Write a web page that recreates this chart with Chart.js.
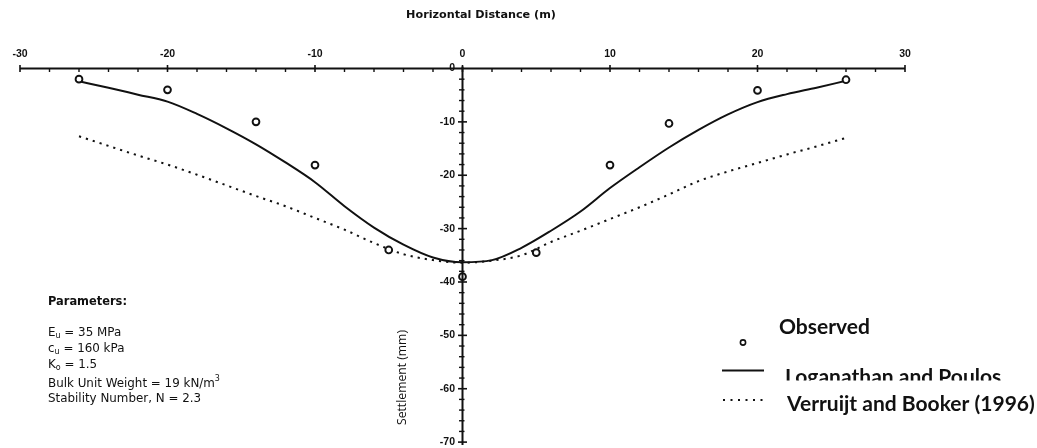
<!DOCTYPE html>
<html><head><meta charset="utf-8">
<script src="https://cdn.jsdelivr.net/npm/chart.js@4.4.1/dist/chart.umd.min.js"></script>
<style>html,body{margin:0;padding:0;background:#fff;overflow:hidden}canvas{display:block}</style>
</head><body>
<canvas id="c" width="1037" height="448"></canvas>
<script>
// ---- data ----
const xTickValues = [-30, -20, -10, 0, 10, 20, 30];
const xTickLabels = ['-30', '-20', '-10', '0', '10', '20', '30'];
const yTickValues = [0, -10, -20, -30, -40, -50, -60, -70];
const yTickLabels = ['0', '-10', '-20', '-30', '-40', '-50', '-60', '-70'];

const observedX = [-26, -20, -14, -10, -5, 0, 5, 10, 14, 20, 26];
const observedY = [-2, -4, -10, -18.1, -34, -39, -34.5, -18.1, -10.3, -4.1, -2.1];

const modelX = [-26, -24, -22, -20, -18, -16, -14, -12, -10, -8, -6, -4, -2, 0, 2, 4, 6, 8, 10, 12, 14, 16, 18, 20, 22, 24, 26];
const loganathanY = [-2.4, -3.6, -4.9, -6.2, -8.5, -11.2, -14.2, -17.6, -21.3, -25.8, -29.8, -33.0, -35.4, -36.3, -35.9, -33.6, -30.4, -26.8, -22.4, -18.5, -14.8, -11.5, -8.6, -6.3, -4.8, -3.6, -2.3];
const verruijtY = [-12.7, -14.5, -16.3, -18.0, -19.9, -21.9, -23.9, -25.8, -28.0, -30.2, -32.7, -34.8, -35.9, -36.4, -36.0, -35.0, -32.5, -30.4, -28.2, -26.0, -23.6, -21.1, -19.3, -17.7, -16.1, -14.6, -13.0];

const seriesNames = ['Observed', 'Loganathan and Poulos', 'Verruijt and Booker (1996)'];
const xTitle = 'Horizontal Distance (m)';
const yTitle = 'Settlement (mm)';
const paramTitle = 'Parameters:';
const paramLines = [
  [['E'], ['u', 'sub'], [' = 35 MPa']],
  [['c'], ['u', 'sub'], [' = 160 kPa']],
  [['K'], ['o', 'sub'], [' = 1.5']],
  [['Bulk Unit Weight = 19 kN/m'], ['3', 'sup']],
  [['Stability Number, N = 2.3']]
];

const INK = '#111';
const toPts = (xs, ys) => xs.map((v, i) => ({x: v, y: ys[i]}));

function fitFont(ctx, text, weight, family, targetW) {
  ctx.font = weight + ' 20px ' + family;
  const w = ctx.measureText(text).width;
  return weight + ' ' + (20 * targetW / w).toFixed(2) + 'px ' + family;
}

const axesPlugin = {
  id: 'customAxes',
  afterDatasetsDraw(chart) {
    const {ctx, scales: {x, y}} = chart;
    const x0 = x.getPixelForValue(0), y0 = y.getPixelForValue(0);
    const seg = (a, b, c, d) => { ctx.beginPath(); ctx.moveTo(a, b); ctx.lineTo(c, d); ctx.stroke(); };
    ctx.save();
    ctx.strokeStyle = INK; ctx.fillStyle = INK;
    ctx.lineWidth = 2;
    seg(x.getPixelForValue(x.min), y0, x.getPixelForValue(x.max), y0);
    seg(x0, y0 - 2, x0, y.getPixelForValue(y.min) + 3);
    // minor ticks
    ctx.lineWidth = 1.4;
    for (let v = x.min; v <= x.max; v += 2) {
      if (v % 10 === 0) continue;
      const px = x.getPixelForValue(v);
      seg(px, y0, px, y0 + 3.5);
    }
    for (let v = y.max; v >= y.min; v -= 2) {
      if (v % 10 === 0) continue;
      const py = y.getPixelForValue(v);
      seg(x0 - 3.5, py, x0 + 2, py);
    }
    // major ticks + labels
    ctx.lineWidth = 1.6;
    ctx.font = 'bold 10.5px "Liberation Sans"';
    ctx.textAlign = 'center'; ctx.textBaseline = 'middle';
    xTickValues.forEach((v, i) => {
      const px = x.getPixelForValue(v);
      seg(px, y0 - 3.5, px, y0 + 3.5);
      ctx.fillText(xTickLabels[i], px, y0 - 14.5);
    });
    ctx.textAlign = 'right';
    yTickValues.forEach((v, i) => {
      const py = y.getPixelForValue(v);
      if (v !== 0) seg(x0 - 4.5, py, x0 + 4.5, py);
      ctx.fillText(yTickLabels[i], x0 - 7.5, py);
    });
    ctx.restore();
  },
  afterDraw(chart) {
    const {ctx} = chart;
    ctx.save();
    ctx.fillStyle = INK; ctx.strokeStyle = INK;
    // axis titles
    ctx.textAlign = 'center'; ctx.textBaseline = 'middle';
    ctx.font = fitFont(ctx, xTitle, 'bold', '"DejaVu Sans"', 150);
    ctx.fillText(xTitle, 481, 15);
    ctx.save();
    ctx.translate(403, 377.5); ctx.rotate(-Math.PI / 2);
    ctx.font = fitFont(ctx, yTitle, 'normal', '"Open Sans"', 95);
    ctx.fillText(yTitle, 0, 0);
    ctx.restore();

    // parameters block
    ctx.textAlign = 'left'; ctx.textBaseline = 'alphabetic';
    ctx.font = fitFont(ctx, paramTitle, 'bold', '"DejaVu Sans"', 79);
    ctx.fillText(paramTitle, 48, 305);
    const rows = [335.5, 351.5, 367.5, 386.5, 401.5];
    paramLines.forEach((parts, r) => {
      let cx = 48;
      parts.forEach(([t, kind]) => {
        let dy = 0;
        if (kind === 'sub') { ctx.font = '8px "DejaVu Sans"'; dy = 2.5; }
        else if (kind === 'sup') { ctx.font = '8px "DejaVu Sans"'; dy = -5.5; }
        else ctx.font = '11.9px "DejaVu Sans"';
        ctx.fillText(t, cx, rows[r] + dy);
        cx += ctx.measureText(t).width;
      });
    });

    // legend
    const lf = fitFont(ctx, seriesNames[2], 'bold', 'Lato', 248);
    ctx.font = lf;
    ctx.fillText(seriesNames[0], 779, 334);
    ctx.save();
    ctx.beginPath(); ctx.rect(770, 355, 260, 25.5); ctx.clip();
    ctx.fillText(seriesNames[1], 785, 384);
    ctx.restore();
    ctx.fillText(seriesNames[2], 787, 411);
    ctx.lineWidth = 1.6;
    ctx.beginPath(); ctx.arc(743, 342.5, 2.6, 0, Math.PI * 2); ctx.stroke();
    ctx.lineWidth = 2;
    ctx.beginPath(); ctx.moveTo(722, 370.5); ctx.lineTo(764, 370.5); ctx.stroke();
    ctx.setLineDash([2, 5.5]);
    ctx.beginPath(); ctx.moveTo(723, 400); ctx.lineTo(764, 400); ctx.stroke();
    ctx.restore();
  }
};

new Chart(document.getElementById('c'), {
  type: 'scatter',
  data: {
    datasets: [
      {
        label: seriesNames[0], data: toPts(observedX, observedY), showLine: false,
        pointStyle: 'circle', pointRadius: 3.4, pointBorderWidth: 1.9,
        pointBorderColor: INK, pointBackgroundColor: '#fff', clip: false
      },
      {
        label: seriesNames[1], data: toPts(modelX, loganathanY), showLine: true,
        borderColor: INK, borderWidth: 2, pointRadius: 0, fill: false,
        cubicInterpolationMode: 'monotone'
      },
      {
        label: seriesNames[2], data: toPts(modelX, verruijtY), showLine: true,
        borderColor: INK, borderWidth: 2, borderDash: [2.2, 5], pointRadius: 0, fill: false,
        cubicInterpolationMode: 'monotone'
      }
    ]
  },
  options: {
    responsive: false, animation: false, devicePixelRatio: 1,
    layout: {padding: {left: 20, right: 132, top: 68.5, bottom: 1}},
    plugins: {legend: {display: false}, tooltip: {enabled: false}},
    scales: {
      x: {type: 'linear', min: -30, max: 30, display: false},
      y: {type: 'linear', min: -70, max: 0, display: false}
    }
  },
  plugins: [axesPlugin]
});
</script>
</body></html>
